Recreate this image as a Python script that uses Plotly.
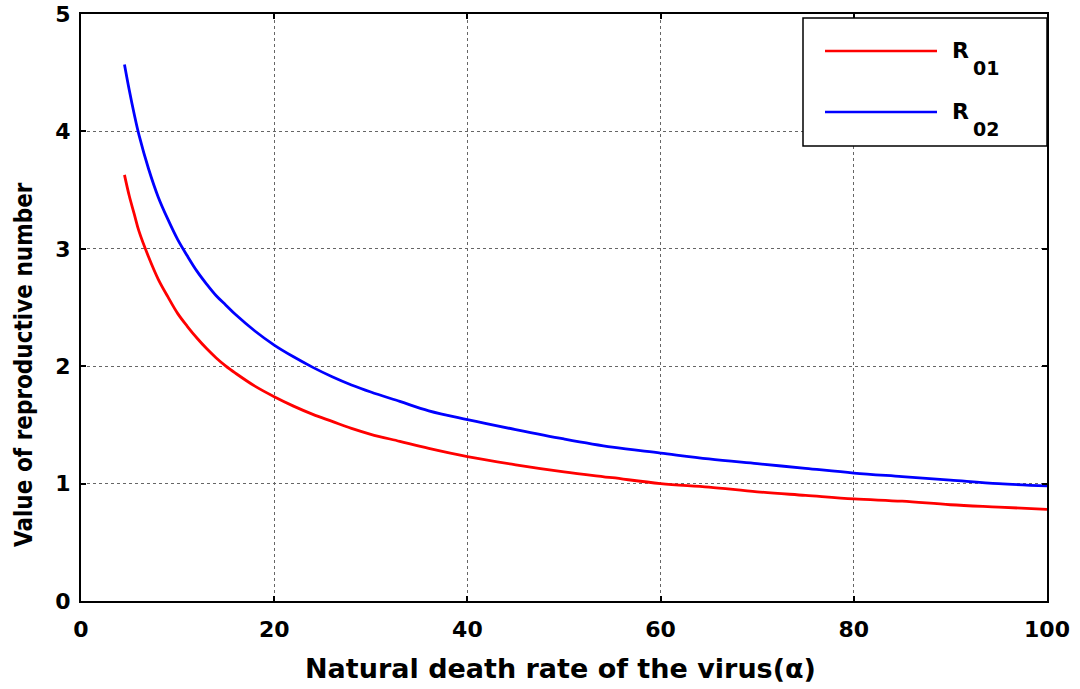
import plotly.graph_objects as go

alpha = [4.5, 5, 5.5, 6, 7, 8, 9, 10, 11, 12, 13, 14, 15, 16, 18, 20, 22, 24, 26, 28,
         30, 33, 36, 40, 45, 50, 55, 60, 65, 70, 75, 80, 85, 90, 95, 100]
r01 = [3.63, 3.45, 3.30, 3.15, 2.93, 2.74, 2.59, 2.45, 2.34, 2.24, 2.15, 2.07, 2.00, 1.94,
       1.83, 1.74, 1.66, 1.59, 1.53, 1.47, 1.42, 1.36, 1.30, 1.23, 1.16, 1.10, 1.05, 1.00,
       0.97, 0.93, 0.90, 0.87, 0.85, 0.82, 0.80, 0.78]
r02 = [4.57, 4.35, 4.15, 3.97, 3.68, 3.44, 3.25, 3.08, 2.94, 2.81, 2.70, 2.60, 2.52, 2.44,
       2.30, 2.18, 2.08, 1.99, 1.91, 1.84, 1.78, 1.70, 1.62, 1.545, 1.46, 1.38, 1.31, 1.26,
       1.21, 1.17, 1.13, 1.09, 1.06, 1.03, 1.00, 0.98]
x_ticks = [0, 20, 40, 60, 80, 100]
y_ticks = [0, 1, 2, 3, 4, 5]
series_names = ["R01", "R02"]
series_subs = ["01", "02"]
series_colors = ["#ff0000", "#0000ff"]
x_title = "Natural death rate of the virus(α)"
y_title = "Value of reproductive number"

W, H = 1080, 689
ML, MR, MT, MB = 81, 33, 14, 88
PW, PH = W - ML - MR, H - MT - MB


def px(x):
    return (x - ML) / PW


def py(y):
    return (H - MB - y) / PH


BOLD = "DejaVu Sans, Verdana, sans-serif"

fig = go.Figure()
for name, ys, col in zip(series_names, [r01, r02], series_colors):
    fig.add_trace(go.Scatter(x=alpha, y=ys, mode="lines", name=name, showlegend=False,
                             line=dict(color=col, width=2.8, shape="spline")))

axis_common = dict(showline=True, linecolor="black", linewidth=2, mirror="ticks",
                   ticks="inside", ticklen=5, tickwidth=1.5, tickcolor="black",
                   showgrid=True, gridcolor="#666666", griddash="dot", gridwidth=1,
                   zeroline=False, automargin=False,
                   tickfont=dict(family=BOLD, size=22, color="black", weight="bold"))

fig.update_xaxes(range=[0, 100], tickvals=x_ticks, ticklabelstandoff=8, **axis_common)
fig.update_yaxes(range=[0, 5], tickvals=y_ticks, ticklabelstandoff=4, **axis_common)

annotations = [
    dict(text=x_title, x=px(560), y=py(668), xref="paper", yref="paper",
         xanchor="center", yanchor="middle", showarrow=False,
         font=dict(family=BOLD, size=27, color="black", weight="bold")),
    dict(text=y_title, x=px(24), y=py(365), xref="paper", yref="paper",
         xanchor="center", yanchor="middle", showarrow=False, textangle=-90,
         font=dict(family="Liberation Sans Narrow, DejaVu Sans Condensed, Arial Narrow, sans-serif",
                   size=24, color="black", weight="bold")),
]

shapes = [
    dict(type="rect", xref="paper", yref="paper", x0=px(803), x1=px(1047), y0=py(146), y1=py(18),
         fillcolor="white", line=dict(color="black", width=1.5), layer="above"),
]
row_y = [51, 112]
for ry, sub, col in zip(row_y, series_subs, series_colors):
    shapes.append(dict(type="line", xref="paper", yref="paper", x0=px(825), x1=px(937),
                       y0=py(ry), y1=py(ry), line=dict(color=col, width=2.5), layer="above"))
    annotations.append(dict(text="R", x=px(950), y=py(ry - 1), xref="paper", yref="paper",
                            xanchor="left", yanchor="middle", showarrow=False,
                            font=dict(family=BOLD, size=22, color="black", weight="bold")))
    annotations.append(dict(text=sub, x=px(971), y=py(ry + 17), xref="paper", yref="paper",
                            xanchor="left", yanchor="middle", showarrow=False,
                            font=dict(family=BOLD, size=19, color="black", weight="bold")))

fig.update_layout(
    width=W, height=H,
    margin=dict(l=ML, r=MR, t=MT, b=MB, autoexpand=False),
    paper_bgcolor="white", plot_bgcolor="white",
    showlegend=False,
    shapes=shapes, annotations=annotations,
)

fig.write_html("out.html")
